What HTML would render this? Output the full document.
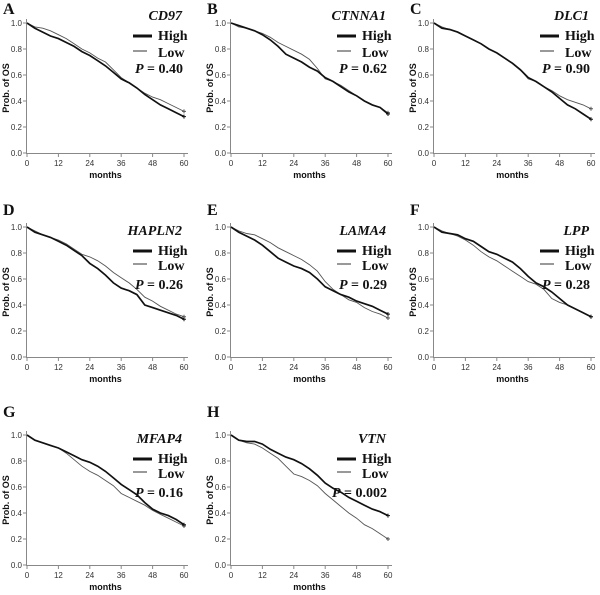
<!DOCTYPE html>
<html><head><meta charset="utf-8"><style>
body{margin:0;background:#fff;}
svg{display:block;}
.tk{font-family:"Liberation Sans",Arial,sans-serif;font-size:8px;fill:#333;}
.ax{font-family:"Liberation Sans",Arial,sans-serif;font-size:9px;font-weight:bold;fill:#111;}
.lg{font-family:"Liberation Serif",serif;font-size:14px;font-weight:bold;fill:#111;}
.pl{font-family:"Liberation Serif",serif;font-size:16px;font-weight:bold;fill:#111;}
</style></head><body>
<svg id="fig" width="600" height="595" viewBox="0 0 600 595"></svg>
<script>
const months = [0,3,6,9,12,15,18,21,24,27,30,33,36,39,42,45,48,51,54,57,60];
const panelLetters = ["A","B","C","D","E","F","G","H"];
const geneNames = ["CD97","CTNNA1","DLC1","HAPLN2","LAMA4","LPP","MFAP4","VTN"];
const pValues = ["0.40","0.62","0.90","0.26","0.29","0.28","0.16","0.002"];
const highA=[1.0,.96,.93,.90,.88,.85,.82,.78,.75,.71,.67,.62,.57,.54,.50,.45,.41,.37,.34,.31,.28];
const lowA=[1.0,.97,.96,.94,.91,.88,.84,.80,.77,.73,.70,.64,.58,.54,.50,.46,.43,.41,.38,.35,.32];
const highB=[1.0,.98,.96,.94,.91,.87,.82,.76,.73,.70,.66,.63,.58,.55,.51,.47,.44,.40,.37,.35,.30];
const lowB=[1.0,.97,.96,.94,.92,.89,.85,.82,.79,.76,.72,.65,.57,.55,.52,.48,.44,.40,.37,.35,.31];
const highC=[1.0,.96,.95,.93,.90,.87,.84,.80,.77,.73,.69,.64,.58,.55,.51,.47,.42,.37,.34,.30,.26];
const lowC=[1.0,.97,.95,.93,.90,.87,.84,.80,.77,.73,.69,.64,.57,.55,.51,.48,.44,.41,.39,.37,.34];
const highD=[1.0,.96,.94,.92,.89,.86,.82,.78,.72,.68,.63,.57,.53,.51,.48,.40,.38,.36,.34,.32,.29];
const lowD=[1.0,.97,.94,.92,.90,.87,.83,.79,.77,.74,.70,.65,.61,.57,.52,.46,.43,.39,.36,.33,.31];
const highE=[1.0,.96,.93,.90,.86,.81,.76,.73,.70,.68,.65,.60,.54,.51,.48,.46,.43,.41,.39,.36,.33];
const lowE=[1.0,.97,.95,.94,.91,.88,.84,.81,.78,.75,.71,.66,.58,.52,.48,.44,.42,.38,.35,.33,.30];
const highF=[1.0,.96,.95,.94,.91,.89,.85,.81,.79,.76,.73,.68,.62,.57,.54,.50,.45,.40,.37,.34,.31];
const lowF=[1.0,.97,.95,.93,.90,.86,.81,.77,.74,.70,.66,.62,.58,.56,.52,.45,.42,.40,.37,.34,.31];
const highG=[1.0,.96,.94,.92,.90,.87,.84,.81,.79,.76,.72,.67,.62,.58,.54,.48,.43,.40,.38,.35,.31];
const lowG=[1.0,.96,.94,.92,.90,.86,.81,.76,.72,.69,.65,.61,.55,.52,.49,.46,.42,.39,.36,.33,.30];
const highH=[1.0,.96,.95,.95,.93,.89,.86,.83,.81,.78,.74,.69,.63,.59,.56,.52,.49,.46,.43,.41,.38];
const lowH=[1.0,.96,.94,.93,.90,.86,.82,.76,.70,.68,.65,.61,.55,.50,.45,.40,.36,.31,.28,.24,.20];
const xTicks=[0,12,24,36,48,60];
const yTicks=[0,0.2,0.4,0.6,0.8,1.0];
const highSeries=[highA,highB,highC,highD,highE,highF,highG,highH];
const lowSeries=[lowA,lowB,lowC,lowD,lowE,lowF,lowG,lowH];

const NS="http://www.w3.org/2000/svg";
const svg=document.getElementById('fig');
function mk(tag,attrs,parent,text){const e=document.createElementNS(NS,tag);for(const k in attrs)e.setAttribute(k,attrs[k]);if(text!==undefined)e.textContent=text;parent.appendChild(e);return e;}
const colX=[27,231,434], rowY1=[23,227,435], rowY0=[153,357,565], W=157;
const legOff=[[-3,17,34,50],[8,28,43,62],[8,28,43,62]];
const labOff=[-9,-12,-18];
for(let p=0;p<8;p++){
  const r=Math.floor(p/3),c=p%3;
  const x0=colX[c],y1=rowY1[r],y0=rowY0[r];
  const xs=m=>x0+m/60*W, ys=v=>y0-v*(y0-y1);
  const g=mk('g',{},svg);
  
  
  const lab=mk('text',{x:x0-24,y:y1+labOff[r],class:'pl'},g,panelLetters[p]);
  
  
  const ax=mk('path',{d:`M${x0-0.5},${y1-4}V${y0+0.5}H${x0+W+4}`,stroke:'#888',fill:'none','stroke-width':1},g);
  
  
  yTicks.forEach(t=>{const y=ys(t);mk('line',{x1:x0-4,x2:x0,y1:y,y2:y,stroke:'#888'},g);
    const tl=mk('text',{x:x0-5,y:y+3,class:'tk','text-anchor':'end'},g,t.toFixed(1));
    
    });
  xTicks.forEach(t=>{const x=xs(t);mk('line',{x1:x,x2:x,y1:y0,y2:y0+4,stroke:'#888'},g);
    const tl=mk('text',{x:x,y:y0+13,class:'tk','text-anchor':'middle'},g,String(t));
    
    });
  const xt=mk('text',{x:x0+W/2,y:y0+25,class:'ax','text-anchor':'middle'},g,'months');
  
  
  const yt=mk('text',{x:0,y:0,class:'ax','text-anchor':'middle',transform:`translate(${x0-18},${(y0+y1)/2}) rotate(-90)`},g,'Prob. of OS');
  
  
  const mkLine=(vals,w,col,name)=>{const d=vals.map((v,i)=>(i?'L':'M')+xs(months[i]).toFixed(1)+','+ys(v).toFixed(1)).join('');
    const l=mk('path',{d:d,stroke:col,'stroke-width':w,fill:'none'},g);
    
    
    const ex=xs(months[months.length-1]),ey=ys(vals[vals.length-1]);
    mk('path',{d:`M${ex-2},${ey}h4M${ex},${ey-2}v4`,stroke:col,'stroke-width':1},g);};
  mkLine(lowSeries[p],0.9,'#555','low-curve');
  mkLine(highSeries[p],1.7,'#111','high-curve');
  const o=legOff[r], lx=x0+W-26;
  const gn=mk('text',{x:x0+W-2,y:y1+o[0],class:'lg','text-anchor':'end','font-style':'italic'},g,geneNames[p]);
  
  
  mk('line',{x1:lx-25,x2:lx-6,y1:y1+o[1]-4,y2:y1+o[1]-4,stroke:'#111','stroke-width':3},g);
  const hi=mk('text',{x:lx,y:y1+o[1],class:'lg'},g,'High');
  
  
  mk('line',{x1:lx-25,x2:lx-11,y1:y1+o[2]-6,y2:y1+o[2]-6,stroke:'#333','stroke-width':1},g);
  const lo=mk('text',{x:lx,y:y1+o[2],class:'lg'},g,'Low');
  
  
  const pt=mk('text',{x:x0+W-1,y:y1+o[3],class:'lg','text-anchor':'end'},g);
  
  
  mk('tspan',{'font-style':'italic'},pt,'P');
  mk('tspan',{},pt,' = '+pValues[p]);
}
</script>
</body></html>
